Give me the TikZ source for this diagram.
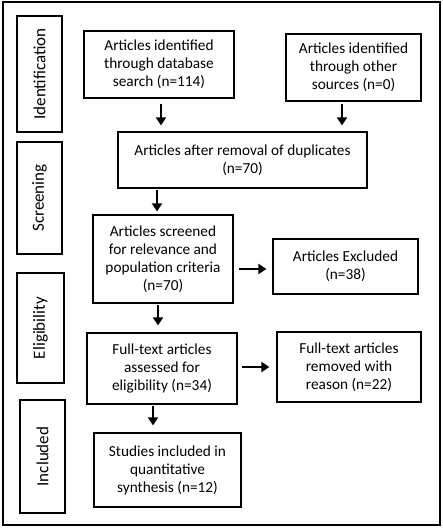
\documentclass[tikz,border=0pt]{standalone}
\usepackage{fontspec}
\setmainfont{Carlito}
\usetikzlibrary{arrows.meta}
\begin{document}
\begin{tikzpicture}[x=1pt,y=-1pt,
  every node/.style={font=\fontsize{15.3}{18}\selectfont},
  box/.style={draw=black, line width=1.2pt, align=center, inner sep=2pt},
  side/.style={draw=black, line width=1.2pt, rotate=90, inner sep=1pt, font=\fontsize{17}{20}\selectfont},
  arr/.style={line width=1.8pt, -{Triangle[length=8pt,width=10pt]}}]
\useasboundingbox (0,0) rectangle (443,531);
\draw[line width=1.3pt] (3,2) rectangle (440,525);
% side labels
\node[side, minimum width=116pt, minimum height=45pt] (sid) at (39.5,74) {Identification};
\node[side, minimum width=112pt, minimum height=45pt] (ssc) at (39.5,198) {Screening};
\node[side, minimum width=110pt, minimum height=47pt] (sel) at (40.5,328) {Eligibility};
\node[side, minimum width=113pt, minimum height=45pt] (sin) at (42.5,456.5) {Included};
% boxes
\node[box, minimum width=150pt, minimum height=67pt] (A) at (159,64.5) {Articles identified\\through database\\search (n=114)};
\node[box, minimum width=135pt, minimum height=67pt] (B) at (353.5,67.5) {Articles identified\\through other\\sources (n=0)};
\node[box, minimum width=249pt, minimum height=56pt] (C) at (242.5,160) {Articles after removal of duplicates\\(n=70)};
\node[box, minimum width=140pt, minimum height=88pt] (D) at (163,259) {Articles screened\\for relevance and\\population criteria\\(n=70)};
\node[box, minimum width=145pt, minimum height=55pt] (E) at (345.5,266.5) {Articles Excluded\\(n=38)};
\node[box, minimum width=150pt, minimum height=71pt] (F) at (162,368.5) {Full-text articles\\assessed for\\eligibility (n=34)};
\node[box, minimum width=144pt, minimum height=70pt] (G) at (349,367) {Full-text articles\\removed with\\reason (n=22)};
\node[box, minimum width=147pt, minimum height=74pt] (H) at (167.5,470) {Studies included in\\quantitative\\synthesis (n=12)};
% arrow positions
\coordinate (xa) at (161,0);
\coordinate (xb) at (342,0);
\coordinate (xc) at (157,0);
\coordinate (xd) at (158,0);
\coordinate (xf) at (153,0);
\coordinate (yde) at (0,269);
\coordinate (yfg) at (0,367);
% arrows
\draw[arr, shorten <=5pt, shorten >=6pt] (A.south -| xa) -- (C.north -| xa);
\draw[arr, shorten <=2pt, shorten >=6pt] (B.south -| xb) -- (C.north -| xb);
\draw[arr, shorten <=1pt, shorten >=3pt] (C.south -| xc) -- (D.north -| xc);
\draw[arr, shorten <=1pt, shorten >=7pt] (D.south -| xd) -- (F.north -| xd);
\draw[arr, shorten <=1pt, shorten >=7pt] (F.south -| xf) -- (H.north -| xf);
\draw[arr, shorten <=5pt, shorten >=6pt] (D.east |- yde) -- (E.west |- yde);
\draw[arr, shorten <=4pt, shorten >=7pt] (F.east |- yfg) -- (G.west |- yfg);
\end{tikzpicture}
\end{document}
